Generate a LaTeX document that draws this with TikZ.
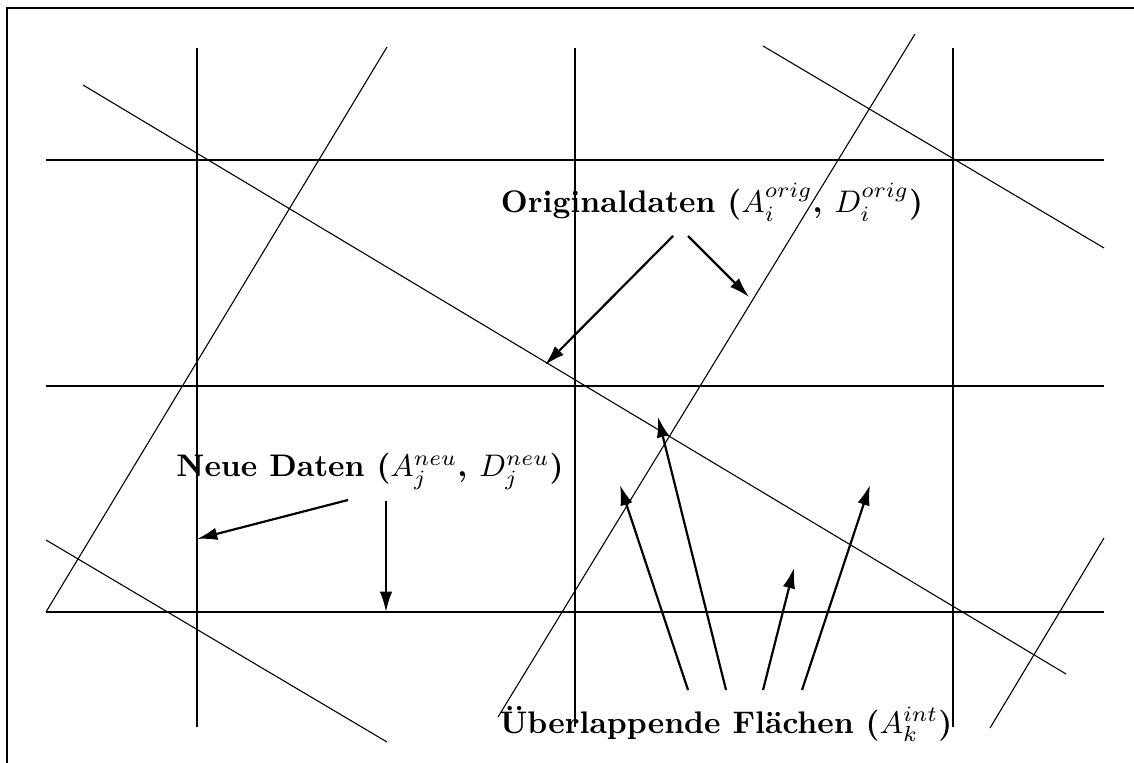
\documentclass[tikz,border=0pt]{standalone}
\usepackage{amsmath}
\usetikzlibrary{positioning, calc, arrows.meta}
\tikzset{
  griglia/.style={line width=0.7pt},
  obliqua/.style={line width=0.35pt},
  freccia/.style={line width=0.7pt,-{Latex[length=6.5pt,width=4pt]}},
  etichetta/.style={font=\bfseries, inner sep=0pt, anchor=base}
}

\begin{document}
\begin{tikzpicture}[x=0.3205pt,y=-0.3205pt]
        \useasboundingbox (0,0) rectangle (1134,763);
        %cornice
        \draw[line width=0.8pt] (7,8) rectangle (1160,790);
        %griglia nuova
        \foreach \x in {197,575,953} {
        \draw[griglia] (\x,48) -- (\x,727);}
        \foreach \y in {160,386,612} {
        \draw[griglia] (46,\y) -- (1104,\y);}
        %griglia originale (ruotata)
        \draw[obliqua] (83,85) -- (1066,674);
        \draw[obliqua] (763,46) -- (1104,248);
        \draw[obliqua] (46,540) -- (387,742);
        \draw[obliqua] (46,612) -- (387,47);
        \draw[obliqua] (498,717) -- (915,34);
        \draw[obliqua] (990,728) -- (1104,538);
        %etichette
        \node[etichetta] (orig) at (712,213) {Originaldaten ($A_i^{orig}$, $D_i^{orig}$)};
        \node[etichetta] (neu) at (370,477) {Neue Daten ($A_j^{neu}$, $D_j^{neu}$)};
        \node[etichetta] (int) at (726,733) {Überlappende Flächen ($A_k^{int}$)};
        %punte
        \coordinate (o1) at (545,365);
        \coordinate (o2) at (749,297);
        \coordinate (n1) at (197,539);
        \coordinate (n2) at (386,612);
        \coordinate (k1) at (620,485);
        \coordinate (k2) at (658,417);
        \coordinate (k3) at (794,568);
        \coordinate (k4) at (870,485);
        %frecce
        \draw[freccia] ($(orig.base)+(-39,23)$) -- (o1);
        \draw[freccia] ($(orig.base)+(-24,23)$) -- (o2);
        \draw[freccia] ($(neu.base)+(-22,23)$) -- (n1);
        \draw[freccia] ($(neu.base)+(16,24)$) -- (n2);
        \foreach \dx/\p in {-38/k1,0/k2,37/k3,76/k4} {
        \draw[freccia] ($(int.base)+(\dx,-43)$) -- (\p);}
    \end{tikzpicture}
\end{document}
